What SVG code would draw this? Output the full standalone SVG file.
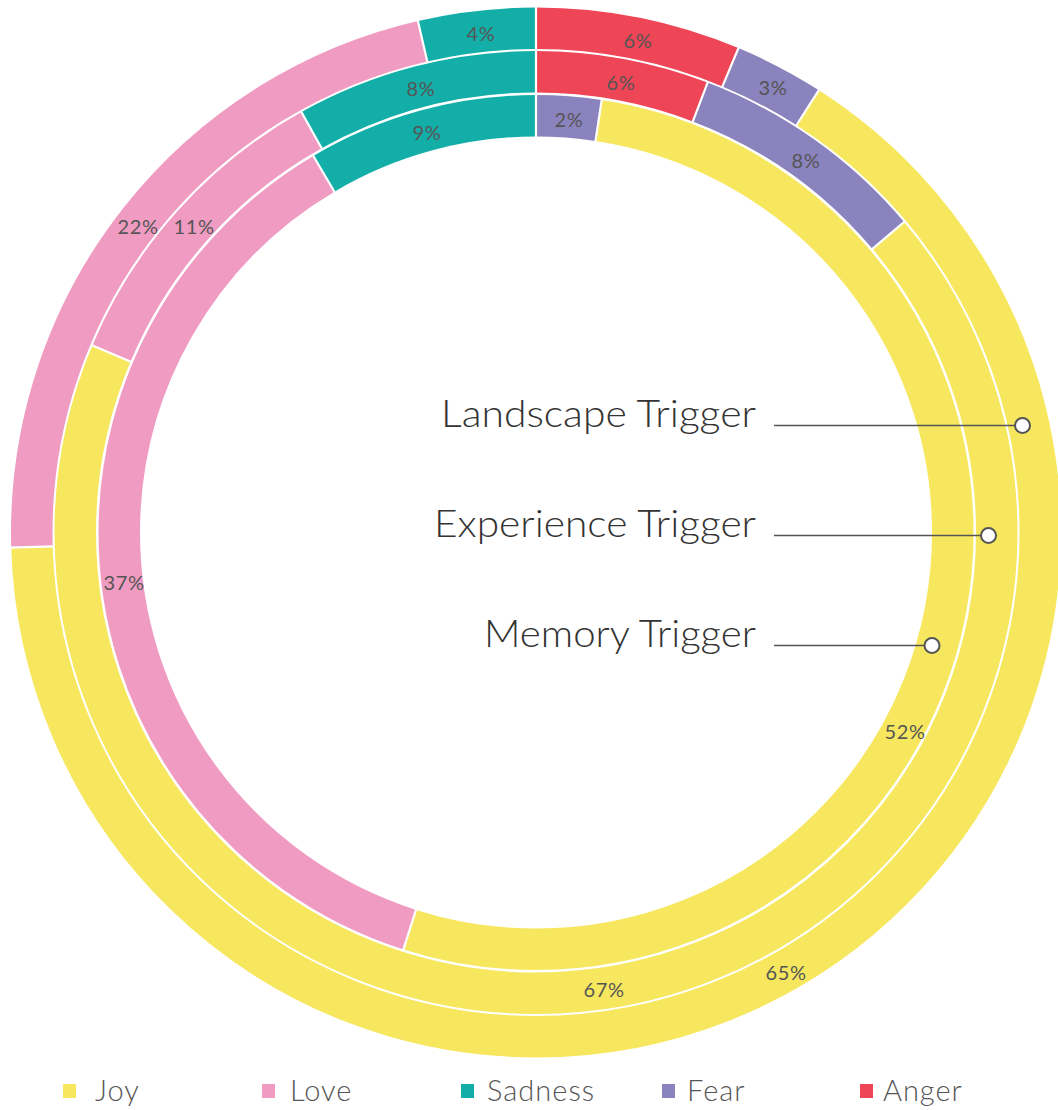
<svg xmlns="http://www.w3.org/2000/svg" width="1058" height="1110" viewBox="0 0 1058 1110">
<style>
.seg{fill:none;stroke-linecap:butt}
.o{stroke-width:41.5}
.m{stroke-width:41.5}
.i{stroke-width:41.5}
.joy{stroke:#F7E75F}
.love{stroke:#F09BC2}
.sad{stroke:#14AEA8}
.fear{stroke:#8B83BE}
.anger{stroke:#EE4656}
.sep{stroke:#FFFFFF;stroke-width:2.2}
.pct{font-family:Lato,"Noto Sans",sans-serif;font-size:20px;fill:#555555;text-anchor:middle;letter-spacing:0.6px}
.trig{font-family:Lato,"Noto Sans",sans-serif;font-size:38px;font-weight:300;fill:#333333;text-anchor:end}
.lead{stroke:#555555;stroke-width:1.6;fill:none}
.dot{fill:#FFFFFF;stroke:#555555;stroke-width:2}
.leg{font-family:Lato,"Noto Sans",sans-serif;font-size:29px;font-weight:300;fill:#555555;letter-spacing:1px}
</style>
<rect width="1058" height="1110" fill="#FFFFFF"/>
<g id="ring-landscape" transform="rotate(-90 536 532.5)">
<circle class="seg o anger" cx="536" cy="532.5" r="504.25" pathLength="100" stroke-dasharray="6.3 100" stroke-dashoffset="0"/>
<circle class="seg o fear" cx="536" cy="532.5" r="504.25" pathLength="100" stroke-dasharray="2.76 100" stroke-dashoffset="-6.3"/>
<circle class="seg o joy" cx="536" cy="532.5" r="504.25" pathLength="100" stroke-dasharray="65.48 100" stroke-dashoffset="-9.06"/>
<circle class="seg o love" cx="536" cy="532.5" r="504.25" pathLength="100" stroke-dasharray="21.85 100" stroke-dashoffset="-74.54"/>
<circle class="seg o sad" cx="536" cy="532.5" r="504.25" pathLength="100" stroke-dasharray="3.61 100" stroke-dashoffset="-96.39"/>
</g>
<g id="ring-experience" transform="rotate(-90 536 532.5)">
<circle class="seg m anger" cx="536" cy="532.5" r="460.75" pathLength="100" stroke-dasharray="5.8 100" stroke-dashoffset="0"/>
<circle class="seg m fear" cx="536" cy="532.5" r="460.75" pathLength="100" stroke-dasharray="8.05 100" stroke-dashoffset="-5.8"/>
<circle class="seg m joy" cx="536" cy="532.5" r="460.75" pathLength="100" stroke-dasharray="67.5 100" stroke-dashoffset="-13.85"/>
<circle class="seg m love" cx="536" cy="532.5" r="460.75" pathLength="100" stroke-dasharray="10.55 100" stroke-dashoffset="-81.35"/>
<circle class="seg m sad" cx="536" cy="532.5" r="460.75" pathLength="100" stroke-dasharray="8.1 100" stroke-dashoffset="-91.9"/>
</g>
<g id="ring-memory" transform="rotate(-90 536 532.5)">
<circle class="seg i fear" cx="536" cy="532.5" r="416.75" pathLength="100" stroke-dasharray="2.4 100" stroke-dashoffset="0"/>
<circle class="seg i joy" cx="536" cy="532.5" r="416.75" pathLength="100" stroke-dasharray="52.5 100" stroke-dashoffset="-2.4"/>
<circle class="seg i love" cx="536" cy="532.5" r="416.75" pathLength="100" stroke-dasharray="36.6 100" stroke-dashoffset="-54.9"/>
<circle class="seg i sad" cx="536" cy="532.5" r="416.75" pathLength="100" stroke-dasharray="8.5 100" stroke-dashoffset="-91.5"/>
</g>
<g id="separators">
<line class="sep" x1="536" y1="6" x2="536" y2="138"/>
<line class="sep" x1="536" y1="6" x2="536" y2="50" transform="rotate(22.68 536 532.5)"/>
<line class="sep" x1="536" y1="6" x2="536" y2="50" transform="rotate(32.6 536 532.5)"/>
<line class="sep" x1="536" y1="6" x2="536" y2="50" transform="rotate(268.35 536 532.5)"/>
<line class="sep" x1="536" y1="6" x2="536" y2="50" transform="rotate(347 536 532.5)"/>
<line class="sep" x1="536" y1="50" x2="536" y2="94" transform="rotate(20.88 536 532.5)"/>
<line class="sep" x1="536" y1="50" x2="536" y2="94" transform="rotate(49.86 536 532.5)"/>
<line class="sep" x1="536" y1="50" x2="536" y2="94" transform="rotate(292.86 536 532.5)"/>
<line class="sep" x1="536" y1="50" x2="536" y2="94" transform="rotate(330.84 536 532.5)"/>
<line class="sep" x1="536" y1="94" x2="536" y2="138" transform="rotate(8.64 536 532.5)"/>
<line class="sep" x1="536" y1="94" x2="536" y2="138" transform="rotate(197.64 536 532.5)"/>
<line class="sep" x1="536" y1="94" x2="536" y2="138" transform="rotate(329.4 536 532.5)"/>
</g>
<g id="percent-labels">
<text class="pct" x="481" y="41">4%</text>
<text class="pct" x="638" y="48">6%</text>
<text class="pct" x="773" y="95">3%</text>
<text class="pct" x="421" y="96">8%</text>
<text class="pct" x="621" y="90">6%</text>
<text class="pct" x="427" y="140">9%</text>
<text class="pct" x="569" y="127">2%</text>
<text class="pct" x="806" y="168">8%</text>
<text class="pct" x="138" y="234">22%</text>
<text class="pct" x="194" y="234">11%</text>
<text class="pct" x="124" y="590">37%</text>
<text class="pct" x="905" y="739">52%</text>
<text class="pct" x="604" y="997">67%</text>
<text class="pct" x="786" y="980">65%</text>
</g>
<g id="connectors">
<line class="lead" x1="774" y1="425.5" x2="1015" y2="425.5"/>
<line class="lead" x1="774" y1="535.5" x2="981" y2="535.5"/>
<line class="lead" x1="774" y1="645.5" x2="925" y2="645.5"/>
</g>
<g id="node-landscape">
<text class="trig" x="756" y="427" textLength="315" lengthAdjust="spacingAndGlyphs">Landscape Trigger</text>
<circle class="dot" cx="1022.5" cy="425.5" r="7.5"/>
</g>
<g id="node-experience">
<text class="trig" x="756" y="537" textLength="322" lengthAdjust="spacingAndGlyphs">Experience Trigger</text>
<circle class="dot" cx="988.5" cy="535.5" r="7.5"/>
</g>
<g id="node-memory">
<text class="trig" x="756" y="647" textLength="272" lengthAdjust="spacingAndGlyphs">Memory Trigger</text>
<circle class="dot" cx="932" cy="645.5" r="7.5"/>
</g>
<g id="legend">
<rect x="63" y="1084" width="13" height="14" fill="#F7E75F"/>
<text class="leg" x="95" y="1101">Joy</text>
<rect x="262" y="1084" width="13" height="14" fill="#F09BC2"/>
<text class="leg" x="290" y="1101">Love</text>
<rect x="461" y="1084" width="13" height="14" fill="#14AEA8"/>
<text class="leg" x="487" y="1101">Sadness</text>
<rect x="662" y="1084" width="13" height="14" fill="#8B83BE"/>
<text class="leg" x="687" y="1101">Fear</text>
<rect x="860" y="1084" width="13" height="14" fill="#EE4656"/>
<text class="leg" x="883" y="1101">Anger</text>
</g>
</svg>
